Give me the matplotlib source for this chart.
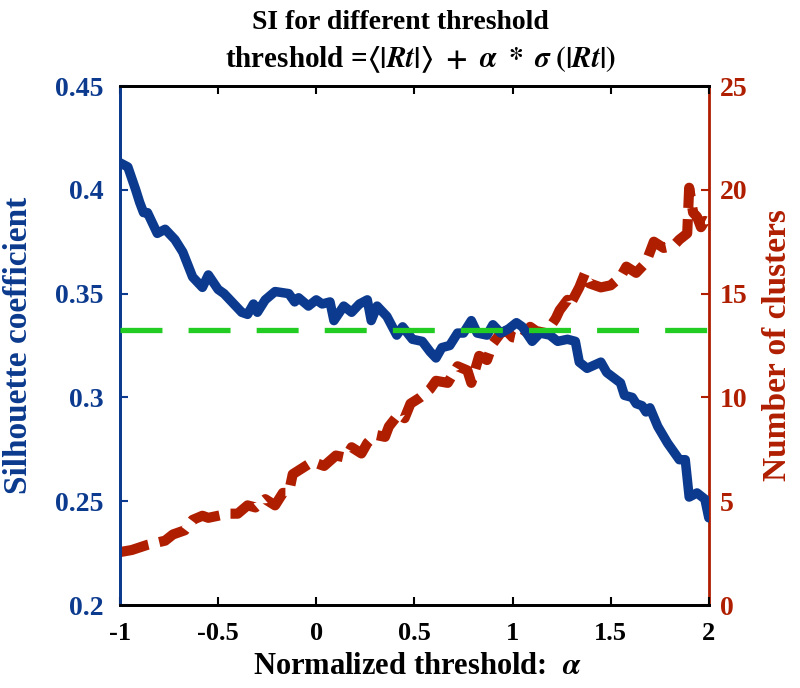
import matplotlib
matplotlib.use("Agg")
import matplotlib.pyplot as plt

# Silhouette coefficient (left axis)
si_x = [-1.00, -0.96, -0.92, -0.90, -0.88, -0.86, -0.81, -0.77, -0.72, -0.68, -0.63, -0.58, -0.55,
        -0.50, -0.47, -0.41, -0.38, -0.35, -0.32, -0.30, -0.26, -0.21, -0.14, -0.11, -0.09, -0.04,
        0.00, 0.03, 0.07, 0.09, 0.14, 0.18, 0.22, 0.26, 0.28, 0.31, 0.36, 0.41, 0.44, 0.49, 0.54,
        0.58, 0.61, 0.64, 0.68, 0.72, 0.75, 0.79, 0.82, 0.87, 0.90, 0.94, 0.98, 1.02, 1.05, 1.10,
        1.14, 1.19, 1.23, 1.28, 1.32, 1.34, 1.38, 1.45, 1.48, 1.55, 1.57, 1.61, 1.63, 1.66, 1.68,
        1.70, 1.74, 1.79, 1.85, 1.88, 1.90, 1.94, 1.98, 2.00]
si_y = [0.413, 0.411, 0.400, 0.394, 0.389, 0.389, 0.379, 0.381, 0.376, 0.370, 0.358, 0.353, 0.359,
        0.352, 0.350, 0.344, 0.341, 0.340, 0.345, 0.341, 0.347, 0.351, 0.350, 0.346, 0.348, 0.344,
        0.347, 0.345, 0.346, 0.337, 0.344, 0.341, 0.345, 0.347, 0.337, 0.344, 0.339, 0.330, 0.334,
        0.328, 0.327, 0.322, 0.319, 0.324, 0.325, 0.331, 0.331, 0.337, 0.331, 0.330, 0.335, 0.331,
        0.333, 0.336, 0.334, 0.327, 0.331, 0.330, 0.327, 0.328, 0.327, 0.317, 0.314, 0.317, 0.312,
        0.307, 0.301, 0.300, 0.297, 0.296, 0.293, 0.295, 0.286, 0.278, 0.270, 0.270, 0.252, 0.254,
        0.251, 0.242]

# Number of clusters (right axis)
nc_x = [-1.00, -0.94, -0.86, -0.77, -0.73, -0.67, -0.63, -0.58, -0.55, -0.50, -0.45, -0.40, -0.35,
        -0.31, -0.26, -0.21, -0.17, -0.14, -0.12, -0.07, -0.02, 0.04, 0.10, 0.15, 0.18, 0.23, 0.26,
        0.30, 0.35, 0.37, 0.42, 0.45, 0.48, 0.53, 0.58, 0.61, 0.67, 0.72, 0.77, 0.79, 0.83, 0.87,
        0.90, 0.94, 0.97, 1.00, 1.05, 1.09, 1.12, 1.17, 1.22, 1.24, 1.28, 1.29, 1.34, 1.37, 1.39,
        1.45, 1.50, 1.55, 1.58, 1.63, 1.68, 1.72, 1.77, 1.82, 1.85, 1.89, 1.90, 1.92, 1.94, 1.96,
        1.98, 2.00]
nc_y = [2.55, 2.65, 2.9, 3.1, 3.4, 3.6, 4.1, 4.3, 4.2, 4.3, 4.4, 4.4, 4.8, 4.7, 5.1, 4.8, 5.4,
        5.4, 6.3, 6.6, 6.9, 6.7, 7.2, 7.1, 7.6, 7.3, 7.8, 8.2, 8.1, 8.6, 9.2, 9.0, 9.7, 10.0, 10.4,
        10.8, 10.7, 11.5, 11.3, 10.7, 12.0, 11.8, 12.6, 13.1, 13.2, 12.9, 12.8, 13.4, 13.2, 13.1,
        13.8, 14.2, 14.7, 14.4, 15.3, 16.0, 15.5, 15.3, 15.4, 15.8, 16.3, 16.0, 16.5, 17.5, 17.2,
        17.3, 17.6, 17.9, 20.1, 18.9, 18.7, 18.2, 18.5, 18.4]

ref_level = 0.3325
x_ticks = [-1, -0.5, 0, 0.5, 1, 1.5, 2]
x_ticklabels = ["-1", "-0.5", "0", "0.5", "1", "1.5", "2"]
left_ticks = [0.2, 0.25, 0.3, 0.35, 0.4, 0.45]
left_ticklabels = ["0.2", "0.25", "0.3", "0.35", "0.4", "0.45"]
right_ticks = [0, 5, 10, 15, 20, 25]

BLUE = "#0b3a8e"
RED = "#b01e00"
GREEN = "#22cc22"

plt.rcParams['font.family'] = ['Liberation Serif', 'DejaVu Serif']
plt.rcParams['font.weight'] = 'bold'
plt.rcParams['mathtext.fontset'] = 'stix'

fig = plt.figure(figsize=(8.0, 6.88), dpi=100)
ax = fig.add_axes([0.15, 0.1206, 0.736, 0.7544])
ax2 = ax.twinx()

ax.plot(si_x, si_y, color=BLUE, lw=6.8, solid_joinstyle='round', solid_capstyle='round', zorder=3)
ax.plot([-1, 2], [ref_level, ref_level], color=GREEN, lw=3.8, dashes=(7.95, 4.95), zorder=4)
ax2.plot(nc_x, nc_y, color=RED, lw=7.3, dashes=(2.9, 1.1), zorder=2)

ax.set_zorder(ax2.get_zorder() + 1)
ax.patch.set_visible(False)

ax.set_xlim(-1, 2)
ax.set_ylim(0.2, 0.45)
ax2.set_ylim(0, 25)

ax.set_xticks(x_ticks)
ax.set_xticklabels(x_ticklabels)
ax.set_yticks(left_ticks)
ax.set_yticklabels(left_ticklabels)
ax2.set_yticks(right_ticks)

for lab in ax.get_xticklabels():
    lab.set_fontweight('bold')
    lab.set_fontsize(19)
for lab in ax.get_yticklabels() + ax2.get_yticklabels():
    lab.set_fontweight('bold')
    lab.set_fontsize(20)

ax.tick_params(axis='x', direction='in', top=True, length=6, width=1.5, colors='black', pad=12)
ax.tick_params(axis='y', direction='in', length=6, width=1.5, colors=BLUE, pad=12)
ax2.tick_params(axis='y', direction='in', length=6, width=1.5, colors=RED, pad=8)

for a in (ax, ax2):
    a.spines['top'].set_color('black')
    a.spines['bottom'].set_color('black')
    a.spines['top'].set_linewidth(2)
    a.spines['bottom'].set_linewidth(2)
ax2.spines['left'].set_color(BLUE)
ax2.spines['left'].set_linewidth(2)
ax2.spines['right'].set_color(RED)
ax2.spines['right'].set_linewidth(2)
ax.spines['left'].set_color(BLUE)
ax.spines['left'].set_linewidth(2)
ax.spines['right'].set_visible(False)

ax.set_ylabel("Silhouette coefficient", color=BLUE, fontsize=24, fontweight='bold')
ax.yaxis.set_label_coords(-0.146, 0.5)
ax2.set_ylabel("Number of clusters", color=RED, fontsize=24, fontweight='bold', rotation=90, va='center')
ax2.yaxis.set_label_coords(1.116, 0.5)
ax.set_xlabel(r"Normalized threshold:  $\alpha$", fontsize=22, fontweight='bold')
ax.xaxis.set_label_coords(0.505, -0.09)

fig.text(0.5, 0.968, "SI for different threshold", ha='center', va='center',
         fontsize=20, fontweight='bold')
fig.text(0.526, 0.913,
         r"threshold =$\langle|\boldsymbol{Rt}|\rangle\ +\ \alpha\ *\ \sigma\;(|\boldsymbol{Rt}|)$",
         ha='center', va='center', fontsize=21, fontweight='bold')

fig.savefig("out.png", dpi=100, facecolor='white')
